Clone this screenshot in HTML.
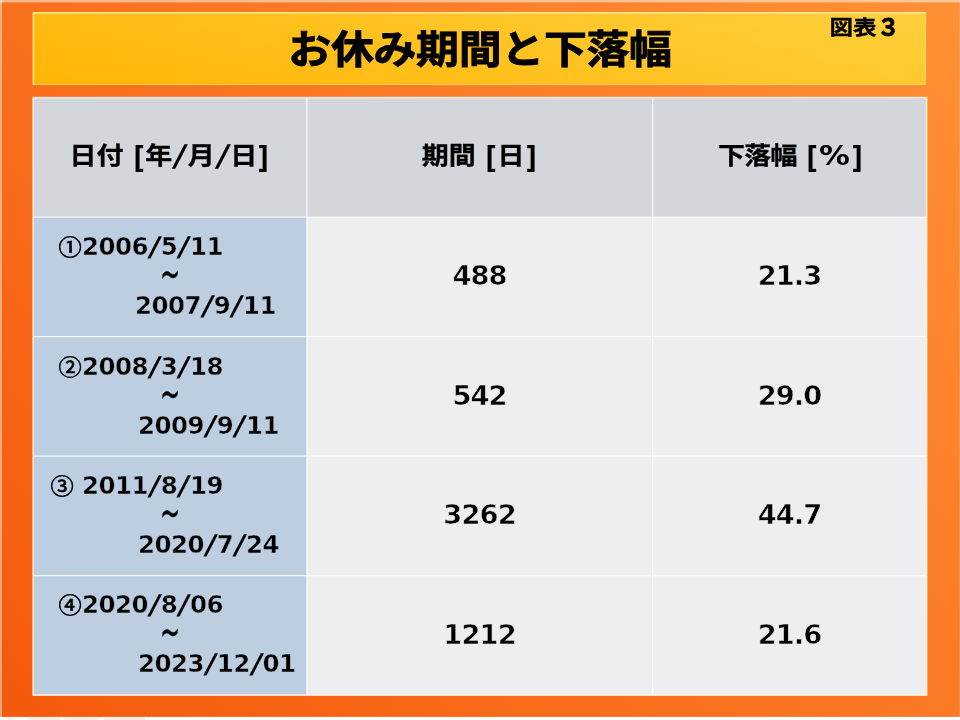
<!DOCTYPE html>
<html lang="ja">
<head>
<meta charset="utf-8">
<title>お休み期間と下落幅</title>
<style>
html,body{margin:0;padding:0;}
body{width:960px;height:720px;overflow:hidden;background:#fff;position:relative;
  font-family:"DejaVu Sans","Liberation Sans","Noto Sans CJK JP",sans-serif;font-weight:bold;color:#000;}
#shapes{position:absolute;left:0;top:0;width:960px;height:720px;display:block;}
.t{position:absolute;white-space:nowrap;margin:0;padding:0;font-weight:bold;line-height:1;}
.j{font-family:"Noto Sans CJK JP","Liberation Sans",sans-serif;display:inline-block;transform:scaleY(.9);-webkit-text-stroke:.35px #000;}
h1.t{font-family:"Noto Sans CJK JP","Liberation Sans",sans-serif;font-weight:bold;font-size:43px;left:0;width:960px;text-align:center;top:25px;letter-spacing:-0.4px;transform:scaleY(.9);-webkit-text-stroke:.9px #000;}
#fig{font-family:"Noto Sans CJK JP","Liberation Sans",sans-serif;font-size:23.5px;left:829.4px;top:14.5px;transform:scaleY(.88);-webkit-text-stroke:.4px #000;letter-spacing:0px;}
#fig span{display:inline-block;transform:translate(.6px,-.6px) scale(.97,1.15);-webkit-text-stroke:.8px #000;}
.h{font-size:27px;top:140px;}
.h .j{font-size:27px;}
.h u{text-decoration:none;display:inline-block;transform:translateY(1.7px) scale(.95,1.1);}
.v{font-size:27.3px;letter-spacing:-0.9px;padding-right:0.9px;box-sizing:border-box;text-align:center;-webkit-text-stroke:.55px #edeef0;}
.c2{left:307px;width:346px;}
.c3{left:653px;width:274px;}
.d{font-size:24.5px;letter-spacing:-0.55px;-webkit-text-stroke:.45px #bccee0;}
.d i,.h i{font-style:normal;margin:0 2.2px;display:inline-block;transform:translateY(.5px) skewX(-10deg) scale(1.2,1.1);}
.d b{font-family:"Noto Sans CJK JP","Liberation Sans",sans-serif;font-weight:normal;font-size:22.5px;letter-spacing:0;line-height:24px;display:inline-block;vertical-align:0.5px;margin-right:1.5px;transform:translate(.8px,1.2px) scale(1.03,.95);-webkit-text-stroke:.6px #000;}
.h i{margin:0 2.8px;}
.h u{-webkit-text-stroke:.2px #d3d6db;}
.d i,.h i{-webkit-text-stroke:0;}
.h .p{display:inline-block;transform:scaleX(1.14);margin:0 2.2px 0 2.6px;}
.h .n{letter-spacing:-0.7px;}
.d.w{font-size:24px;letter-spacing:0;transform:translate(1px,-1.3px) scale(1,1.75);font-weight:normal;-webkit-text-stroke:.25px #000;}
</style>
</head>
<body>
<svg id="shapes" width="960" height="720" viewBox="0 0 960 720">
  <defs>
    <linearGradient id="gbg" gradientUnits="userSpaceOnUse" x1="0" y1="717" x2="872" y2="-94">
      <stop offset="0" stop-color="#f4590b"/>
      <stop offset="1" stop-color="#ff9036"/>
    </linearGradient>
    <linearGradient id="gti" x1="0" y1="1" x2="1.2" y2="0.6">
      <stop offset="0" stop-color="#ffb504"/>
      <stop offset="1" stop-color="#ffd03d"/>
    </linearGradient>
  </defs>
  <rect x="0" y="0" width="960" height="720" fill="#ffffff"/>
  <rect x="0" y="0" width="960" height="716.9" fill="url(#gbg)"/>
  <path d="M8 718.6H14M28 718.6H60M64 718.6H98M104 718.6H145" stroke="#ffd9cc" stroke-width="2.4" stroke-opacity=".55" fill="none"/>
  <rect x="0" y="0" width="960" height="2.4" fill="#ffffff" opacity="0.5"/>
  <rect x="0" y="0" width="2" height="717" fill="#ffffff" opacity="0.45"/>
  <rect x="959" y="0" width="1" height="717" fill="#ffffff" opacity="0.15"/>
  <!-- title box -->
  <rect x="32.7" y="12" width="893.4" height="73" fill="url(#gti)"/>
  <path d="M33.4 85V12.7H926.1" fill="none" stroke="#ffeaa6" stroke-width="1.4" stroke-opacity=".9"/>
  <path d="M925.5 12V84.6H33" fill="none" stroke="#ffe9a0" stroke-width="1" stroke-opacity=".45"/>
  <!-- table cells -->
  <rect x="33.2" y="97.6" width="893.4" height="119.5" fill="#d3d6db"/>
  <rect x="33.2" y="217.1" width="273.7" height="478" fill="#bccee0"/>
  <rect x="306.9" y="217.1" width="619.7" height="478" fill="#edeef0"/>
  <rect x="33.2" y="97.6" width="893.4" height="597.5" fill="none" stroke="#fff1e4" stroke-width="1.6" stroke-opacity=".92"/>
  <g stroke="#ffffff" stroke-width="1.3" stroke-opacity="0.85" fill="none">
    <path d="M306.9 97.6V695.1M652.7 97.6V695.1M33.2 217.1H926.6M33.2 336.6H926.6M33.2 456.1H926.6M33.2 575.6H926.6"/>
  </g>
</svg>
<h1 class="t">お休み期間と下落幅</h1>
<div class="t" id="fig">図表<span>３</span></div>

<div class="t h" style="left:69.5px"><span class="j">日付</span> <u>[</u><span class="j">年</span><i>/</i><span class="j">月</span><i>/</i><span class="j">日</span><u>]</u></div>
<div class="t h" style="left:421.8px"><span class="j">期間</span> <u>[</u><span class="j">日</span><u>]</u></div>
<div class="t h" style="left:718px"><span class="j n">下落幅</span> <u>[</u><span class="p">%</span><u>]</u></div>

<div class="t d" style="left:58px;top:232px"><b>①</b>2006<i>/</i>5<i>/</i>11</div>
<div class="t d w" style="left:159px;top:263px">~</div>
<div class="t d" style="left:135px;top:293.5px">2007<i>/</i>9<i>/</i>11</div>
<div class="t v c2" style="top:262.3px">488</div>
<div class="t v c3" style="top:262.3px">21.3</div>

<div class="t d" style="left:58px;top:352px"><b>②</b>2008<i>/</i>3<i>/</i>18</div>
<div class="t d w" style="left:159px;top:383px">~</div>
<div class="t d" style="left:138px;top:413.5px">2009<i>/</i>9<i>/</i>11</div>
<div class="t v c2" style="top:382.3px">542</div>
<div class="t v c3" style="top:382.3px">29.0</div>

<div class="t d" style="left:50px;top:471px"><b>③</b> 2011<i>/</i>8<i>/</i>19</div>
<div class="t d w" style="left:159px;top:502px">~</div>
<div class="t d" style="left:138px;top:532.5px">2020<i>/</i>7<i>/</i>24</div>
<div class="t v c2" style="top:501.3px">3262</div>
<div class="t v c3" style="top:501.3px">44.7</div>

<div class="t d" style="left:58px;top:590px"><b>④</b>2020<i>/</i>8<i>/</i>06</div>
<div class="t d w" style="left:159px;top:621px">~</div>
<div class="t d" style="left:138px;top:651.5px">2023<i>/</i>12<i>/</i>01</div>
<div class="t v c2" style="top:621.3px">1212</div>
<div class="t v c3" style="top:621.3px">21.6</div>
</body>
</html>
